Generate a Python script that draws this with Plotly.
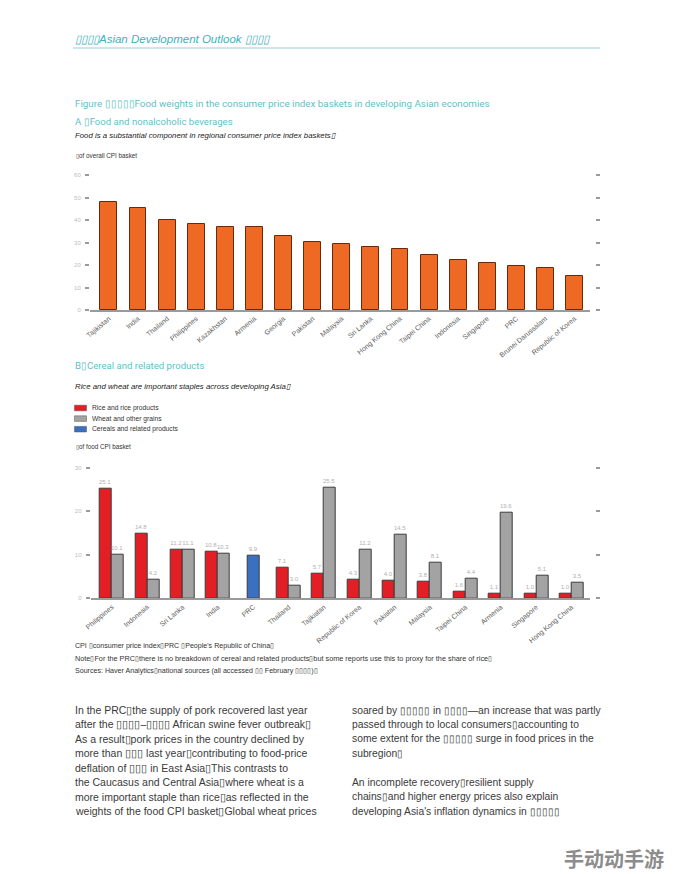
import plotly.graph_objects as go

W, H = 674, 874
B = "\u25af"  # tofu-like box, as shown in the reference

# ---------------- Data: panel A ----------------
a_economies = ["Tajikistan", "India", "Thailand", "Philippines", "Kazakhstan", "Armenia",
               "Georgia", "Pakistan", "Malaysia", "Sri Lanka", "Hong Kong China",
               "Taipei China", "Indonesia", "Singapore", "PRC", "Brunei Darussalam",
               "Republic of Korea"]
a_food_share = [48.1, 45.5, 40.1, 38.1, 36.9, 36.9, 32.9, 30.1, 29.2, 28.1, 27.1,
                24.3, 22.1, 20.8, 19.7, 18.7, 15.3]
a_ticks = [0, 10, 20, 30, 40, 50, 60]

# ---------------- Data: panel B ----------------
b_economies = ["Philippines", "Indonesia", "Sri Lanka", "India", "PRC", "Thailand",
               "Tajikistan", "Republic of Korea", "Pakistan", "Malaysia", "Taipei China",
               "Armenia", "Singapore", "Hong Kong China"]
b_rice = [25.1, 14.8, 11.2, 10.8, None, 7.1, 5.7, 4.3, 4.0, 3.8, 1.6, 1.1, 1.0, 1.0]
b_wheat = [10.1, 4.2, 11.1, 10.3, None, 3.0, 25.5, 11.2, 14.5, 8.1, 4.4, 19.6, 5.1, 3.5]
b_cereals = [None, None, None, None, 9.9, None, None, None, None, None, None, None, None, None]
b_ticks = [0, 10, 20, 30]

series_names = ["Rice and rice products", "Wheat and other grains", "Cereals and related products"]
series_colors = ["#e31e24", "#a3a3a3", "#3b6fc0"]

TEAL = "#5fbfc8"
FONT = "Liberation Sans"


def px(x):
    return x / W


def py(y):
    return 1 - y / H


fig = go.Figure()

# Panel A bars
fig.add_trace(go.Bar(x=a_economies, y=a_food_share, xaxis="x", yaxis="y",
                     marker=dict(color="#ee6a24", line=dict(color="#6a2a0a", width=1)),
                     width=0.58, showlegend=False, hoverinfo="x+y"))
fig.add_trace(go.Scatter(x=a_economies, y=a_food_share, xaxis="x", yaxis="y3",
                         mode="none", showlegend=False, hoverinfo="skip"))

# Panel B bars
bw = 0.34
for vals, name, col, off in [(b_rice, series_names[0], series_colors[0], -bw),
                             (b_wheat, series_names[1], series_colors[1], 0.0),
                             (b_cereals, series_names[2], series_colors[2], -bw / 2)]:
    fig.add_trace(go.Bar(x=b_economies, y=vals, name=name, xaxis="x2", yaxis="y2",
                         width=bw, offset=off,
                         marker=dict(color=col, line=dict(color="#3a3a3a", width=1)),
                         texttemplate="%{y:.1f}", textposition="outside",
                         constraintext="none", cliponaxis=False,
                         textfont=dict(size=6, color="#b0b0b0", family=FONT),
                         showlegend=False))
fig.add_trace(go.Scatter(x=b_economies, y=b_wheat, xaxis="x2", yaxis="y4",
                         mode="none", showlegend=False, hoverinfo="skip"))

ytick_common = dict(ticks="outside", ticklen=4, tickwidth=1.5, tickcolor="#9a9a9a",
                    showgrid=False, zeroline=False, showline=False, automargin=False,
                    ticklabelstandoff=3,
                    tickfont=dict(size=6, color="#bdbdbd", family=FONT))
xcat_common = dict(type="category", showline=True, linecolor="#9a9a9a", linewidth=2,
                   ticks="", showgrid=False, zeroline=False, tickangle=-40, automargin=False,
                   tickfont=dict(size=7, color="#5a5a5a", family=FONT))
yright_common = dict(anchor="free", position=px(595), side="right", showticklabels=False,
                     ticks="outside", ticklen=4, tickwidth=1.5, tickcolor="#9a9a9a",
                     showgrid=False, zeroline=False, showline=False, automargin=False)

fig.update_layout(
    template="none",
    width=W, height=H, margin=dict(l=0, r=0, t=0, b=0, pad=0),
    paper_bgcolor="white", plot_bgcolor="white",
    barmode="overlay", bargap=0, showlegend=False,
    xaxis=dict(domain=[px(90), px(590)], anchor="y", range=[-0.65, 16.53], **xcat_common),
    yaxis=dict(domain=[py(310), py(175)], anchor="x", range=[0, 60], tickvals=a_ticks, **ytick_common),
    yaxis3=dict(overlaying="y", range=[0, 60], tickvals=a_ticks, **yright_common),
    xaxis2=dict(domain=[px(90.7), px(590)], anchor="y2", range=[-0.6, 13.52], **xcat_common),
    yaxis2=dict(domain=[py(598.3), py(467.7)], anchor="x2", range=[0, 30], tickvals=b_ticks, **ytick_common),
    yaxis4=dict(overlaying="y2", range=[0, 30], tickvals=b_ticks, **yright_common),
    font=dict(family=FONT),
)

ann = []


def text(x, y, s, size, color, family=FONT, xanchor="left", **kw):
    ann.append(dict(xref="paper", yref="paper", x=px(x), y=py(y), text=s, showarrow=False,
                    xanchor=xanchor, yanchor="middle",
                    font=dict(size=size, color=color, family=family), **kw))


# Header
text(73, 39, f"<i>{B*4}Asian Development Outlook {B*4}</i>", 11.5, "#3fb0bd")
shapes = [dict(type="line", xref="paper", yref="paper", x0=px(73), x1=px(600),
               y0=py(48), y1=py(48), line=dict(color="#8fd3da", width=1))]

# Panel A titles
text(73, 103, f"Figure {B*5}Food weights in the consumer price index baskets in developing Asian economies",
     9.8, TEAL, family="Roboto")
text(73, 121, f"A {B}Food and nonalcoholic beverages", 9.6, TEAL, family="Roboto")
text(73, 136, f"<i>Food is a substantial component in regional consumer price index baskets{B}</i>",
     7.8, "#222222")
text(74, 156, f"{B}of overall CPI basket", 6.3, "#333333")

# Panel B titles
text(73, 365, f"B{B}Cereal and related products", 9.6, TEAL, family="Roboto")
text(73, 386, f"<i>Rice and wheat are important staples across developing Asia{B}</i>", 7.8, "#222222")

# Legend (swatches + labels)
for i, (nm, col) in enumerate(zip(series_names, series_colors)):
    yc = 408 + i * 10.6
    shapes.append(dict(type="rect", xref="paper", yref="paper", x0=px(74.5), x1=px(86.5),
                       y0=py(yc - 2.8), y1=py(yc + 2.8), fillcolor=col,
                       line=dict(color="#555555", width=0.5)))
    text(90, yc, nm, 6.7, "#333333")
text(74, 447, f"{B}of food CPI basket", 6.3, "#333333")

# Footnotes
text(73, 646, f"CPI {B}consumer price index{B}PRC {B}People's Republic of China{B}", 7.1, "#333333")
text(73, 658, f"Note{B}For the PRC{B}there is no breakdown of cereal and related products{B}"
              f"but some reports use this to proxy for the share of rice{B}", 7.3, "#333333")
text(73, 671, f"Sources: Haver Analytics{B}national sources (all accessed {B*2} February {B*4}){B}",
     7.1, "#333333")

# Body text
left_lines = [
    f"In the PRC{B}the supply of pork recovered last year",
    f"after the {B*4}\u2013{B*4} African swine fever outbreak{B}",
    f"As a result{B}pork prices in the country declined by",
    f"more than {B*3} last year{B}contributing to food-price",
    f"deflation of {B*3} in East Asia{B}This contrasts to",
    f"the Caucasus and Central Asia{B}where wheat is a",
    f"more important staple than rice{B}as reflected in the",
    f"weights of the food CPI basket{B}Global wheat prices",
]
right_lines = [
    f"soared by {B*5} in {B*4}\u2014an increase that was partly",
    f"passed through to local consumers{B}accounting to",
    f"some extent for the {B*5} surge in food prices in the",
    f"subregion{B}",
    "",
    f"An incomplete recovery{B}resilient supply",
    f"chains{B}and higher energy prices also explain",
    f"developing Asia's inflation dynamics in {B*5}",
]
for i, s in enumerate(left_lines):
    text(73, 710 + i * 14.45, s, 10.5, "#3a3a3a")
for i, s in enumerate(right_lines):
    if s:
        text(350, 710 + i * 14.45, s, 10.3, "#3a3a3a")

# Watermark
text(614, 858, "<b>手动动手游</b>", 20, "#8c8c8c", family="Noto Sans CJK SC", xanchor="center")

fig.update_layout(annotations=ann, shapes=shapes)

fig.write_html("out.html", config={"displayModeBar": False},
               post_script="document.body.style.margin='0';document.body.style.overflow='hidden';")
